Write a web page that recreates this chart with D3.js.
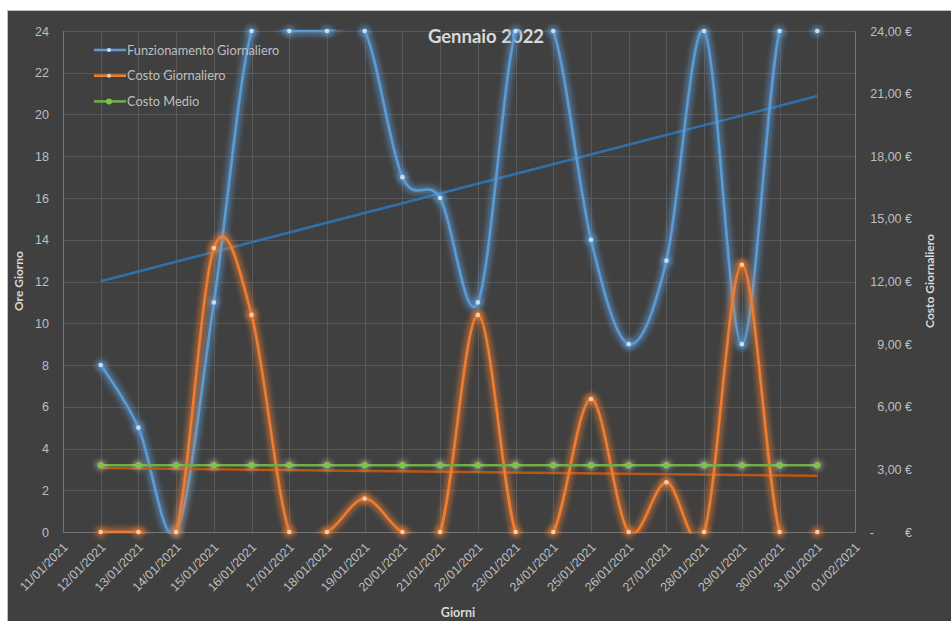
<!DOCTYPE html>
<html><head><meta charset="utf-8">
<script src="https://cdn.jsdelivr.net/npm/d3@7"></script>
<style>
body{margin:0;background:#fff;}
svg{display:block;font-family:Lato,"Open Sans",sans-serif;}
</style>
</head><body>
<svg id="c" width="951" height="621"></svg>
<script>
// ---- data ----
const tickLabels = ["11/01/2021","12/01/2021","13/01/2021","14/01/2021","15/01/2021","16/01/2021","17/01/2021","18/01/2021","19/01/2021","20/01/2021","21/01/2021","22/01/2021","23/01/2021","24/01/2021","25/01/2021","26/01/2021","27/01/2021","28/01/2021","29/01/2021","30/01/2021","31/01/2021","01/02/2021"];
const giorni = ["12/01/2021","13/01/2021","14/01/2021","15/01/2021","16/01/2021","17/01/2021","18/01/2021","19/01/2021","20/01/2021","21/01/2021","22/01/2021","23/01/2021","24/01/2021","25/01/2021","26/01/2021","27/01/2021","28/01/2021","29/01/2021","30/01/2021","31/01/2021"];
const funzionamento = [8,5,0,11,24,24,24,24,17,16,11,24,24,14,9,13,24,9,24,24];
const costoGiornaliero = [0,0,0,13.6,10.4,0,0,1.6,0,0,10.4,0,0,6.37,0,2.38,0,12.8,0,0];
const costoMedio = [3.2,3.2,3.2,3.2,3.2,3.2,3.2,3.2,3.2,3.2,3.2,3.2,3.2,3.2,3.2,3.2,3.2,3.2,3.2,3.2];
const oreTicks = [0,2,4,6,8,10,12,14,16,18,20,22,24];
const costoTicks = [0,3,6,9,12,15,18,21,24];
const serieNames = ["Funzionamento Giornaliero","Costo Giornaliero","Costo Medio"];
const title = "Gennaio 2022";

// ---- setup ----
const svg = d3.select("#c");
const L=63,R=855,T=31,B=532;
const parse = d3.timeParse("%d/%m/%Y");
const x = d3.scaleTime().domain([parse(tickLabels[0]), parse(tickLabels[tickLabels.length-1])]).range([L,R]);
const y = d3.scaleLinear().domain([0,24]).range([B,T]);
const yR = d3.scaleLinear().domain([0,24]).range([B,T]);

const defs = svg.append("defs");
const f = defs.append("filter").attr("id","blur").attr("x","-50%").attr("y","-50%").attr("width","200%").attr("height","200%");
f.append("feGaussianBlur").attr("stdDeviation",2.8);
defs.append("clipPath").attr("id","plot").append("rect")
  .attr("x",L-2).attr("y",T-1.5).attr("width",R-L+4).attr("height",B-T+3);

// background
svg.append("rect").attr("x",7.5).attr("y",10.5).attr("width",951).attr("height",621)
  .attr("fill","#404040").attr("stroke","#bfbfbf").attr("stroke-width",1);

// gridlines
const grid = svg.append("g");
grid.selectAll("line.h").data(oreTicks).join("line")
  .attr("x1",L).attr("x2",R).attr("y1",d=>Math.round(y(d))+0.5).attr("y2",d=>Math.round(y(d))+0.5)
  .attr("stroke","#595959").attr("stroke-width",1);
grid.selectAll("line.v").data(tickLabels).join("line")
  .attr("y1",T).attr("y2",B).attr("x1",d=>Math.round(x(parse(d)))+0.5).attr("x2",d=>Math.round(x(parse(d)))+0.5)
  .attr("stroke","#595959").attr("stroke-width",1);
// axis lines
svg.append("line").attr("x1",L+0.5).attr("x2",L+0.5).attr("y1",T).attr("y2",B+0.5).attr("stroke","#757575");
svg.append("line").attr("x1",R+0.5).attr("x2",R+0.5).attr("y1",T).attr("y2",B+0.5).attr("stroke","#757575");
svg.append("line").attr("x1",L).attr("x2",R).attr("y1",B+0.5).attr("y2",B+0.5).attr("stroke","#757575");

// left axis
const gl = svg.append("g").attr("transform",`translate(${L},0)`)
  .call(d3.axisLeft(y).tickValues(oreTicks).tickSize(0).tickPadding(14).tickFormat(d3.format("d")));
gl.select(".domain").remove();
gl.selectAll("text").attr("fill","#bfbfbf").attr("font-size","12.5px");

// right axis
const eur = d => d===0 ? "-         €" : d3.format(".2f")(d).replace(".",",")+" €";
const gr = svg.append("g").attr("transform",`translate(${R},0)`)
  .call(d3.axisRight(yR).tickValues(costoTicks).tickSize(0).tickPadding(57).tickFormat(eur));
gr.select(".domain").remove();
gr.selectAll("text").attr("fill","#bfbfbf").attr("font-size","12.5px").attr("text-anchor","end").style("white-space","pre");

// bottom axis
const gb = svg.append("g").attr("transform",`translate(0,${B})`)
  .call(d3.axisBottom(x).tickValues(tickLabels.map(parse)).tickSize(0).tickFormat(d3.timeFormat("%d/%m/%Y")));
gb.select(".domain").remove();
gb.selectAll("text").attr("fill","#bfbfbf").attr("font-size","12.5px")
  .attr("text-anchor","end").attr("transform","translate(2,13) rotate(-45)").attr("dy","0.35em").attr("y",0).attr("x",0);

// axis titles
svg.append("text").attr("transform","translate(23,281) rotate(-90)").attr("text-anchor","middle")
  .attr("fill","#d9d9d9").attr("font-size","12px").attr("font-weight","bold").text("Ore Giorno");
svg.append("text").attr("transform","translate(934,281) rotate(-90)").attr("text-anchor","middle")
  .attr("fill","#d9d9d9").attr("font-size","12px").attr("font-weight","bold").text("Costo Giornaliero");
svg.append("text").attr("x",458).attr("y",617).attr("text-anchor","middle")
  .attr("fill","#d9d9d9").attr("font-size","12.5px").attr("font-weight","bold").text("Giorni");
svg.append("text").attr("x",486).attr("y",43).attr("text-anchor","middle")
  .attr("fill","#d9d9d9").attr("font-size","18.5px").attr("font-weight","bold").text(title);

// ---- series ----
const dates = giorni.map(parse);
const curve = d3.curveCatmullRom.alpha(0);
function series(vals, ys, color, glow, glowOp, markerFill, r, withGlowLine, curveFn){
  const pts = vals.map((v,i)=>[x(dates[i]), ys(v)]);
  const line = d3.line().curve(curveFn);
  const g = svg.append("g");
  const cg = g.append("g").attr("clip-path","url(#plot)");
  if(withGlowLine){
    cg.append("path").attr("d",line(pts)).attr("fill","none").attr("stroke",glow)
      .attr("stroke-width",9).attr("stroke-opacity",glowOp).attr("filter","url(#blur)");
  }
  cg.append("path").attr("d",line(pts)).attr("fill","none").attr("stroke",color)
    .attr("stroke-width",2.6).attr("stroke-linejoin","round");
  g.selectAll("circle.gl").data(pts).join("circle").attr("cx",d=>d[0]).attr("cy",d=>d[1])
    .attr("r",5.5).attr("fill",glow).attr("opacity",glowOp+0.1).attr("filter","url(#blur)");
  g.selectAll("circle.m").data(pts).join("circle").attr("cx",d=>d[0]).attr("cy",d=>d[1])
    .attr("r",r).attr("fill",markerFill);
}
function trend(vals, ys, color){
  const n = vals.length, xs = vals.map((_,i)=>i);
  const mx = d3.mean(xs), my = d3.mean(vals);
  const slope = d3.sum(xs.map((xi,i)=>(xi-mx)*(vals[i]-my)))/d3.sum(xs.map(xi=>(xi-mx)**2));
  const b = my - slope*mx;
  svg.append("line").attr("x1",x(dates[0])).attr("x2",x(dates[n-1]))
    .attr("y1",ys(b)).attr("y2",ys(b+slope*(n-1)))
    .attr("stroke",color).attr("stroke-width",2.6).attr("stroke-opacity",0.9);
}

trend(funzionamento, y, "#2e75b6");
series(funzionamento, y, "#5b9bd5", "#5b9bd5", 0.5, "#c9ddf1", 2.3, true, curve);
trend(costoGiornaliero, yR, "#c55a11");
series(costoGiornaliero, yR, "#ed7d31", "#ed7d31", 0.5, "#f8cbad", 2.3, true, curve);
series(costoMedio, yR, "#70ad47", "#d0d0d0", 0.35, "#7cc444", 3.2, false, d3.curveLinear);

// ---- legend ----
const legColors = ["#5b9bd5","#ed7d31","#70ad47"];
const legMarker = ["#c9ddf1","#f8cbad","#7cc444"];
const lg = svg.append("g");
serieNames.forEach((n,i)=>{
  const yy = 50 + i*25.7;
  lg.append("line").attr("x1",94).attr("x2",126).attr("y1",yy).attr("y2",yy)
    .attr("stroke",legColors[i]).attr("stroke-width",2.6);
  lg.append("circle").attr("cx",109).attr("cy",yy).attr("r",i===2?3:2).attr("fill",legMarker[i]);
  lg.append("text").attr("x",127).attr("y",yy+4.5).attr("fill","#bfbfbf").attr("font-size","12.8px").text(n);
});
</script>
</body></html>
